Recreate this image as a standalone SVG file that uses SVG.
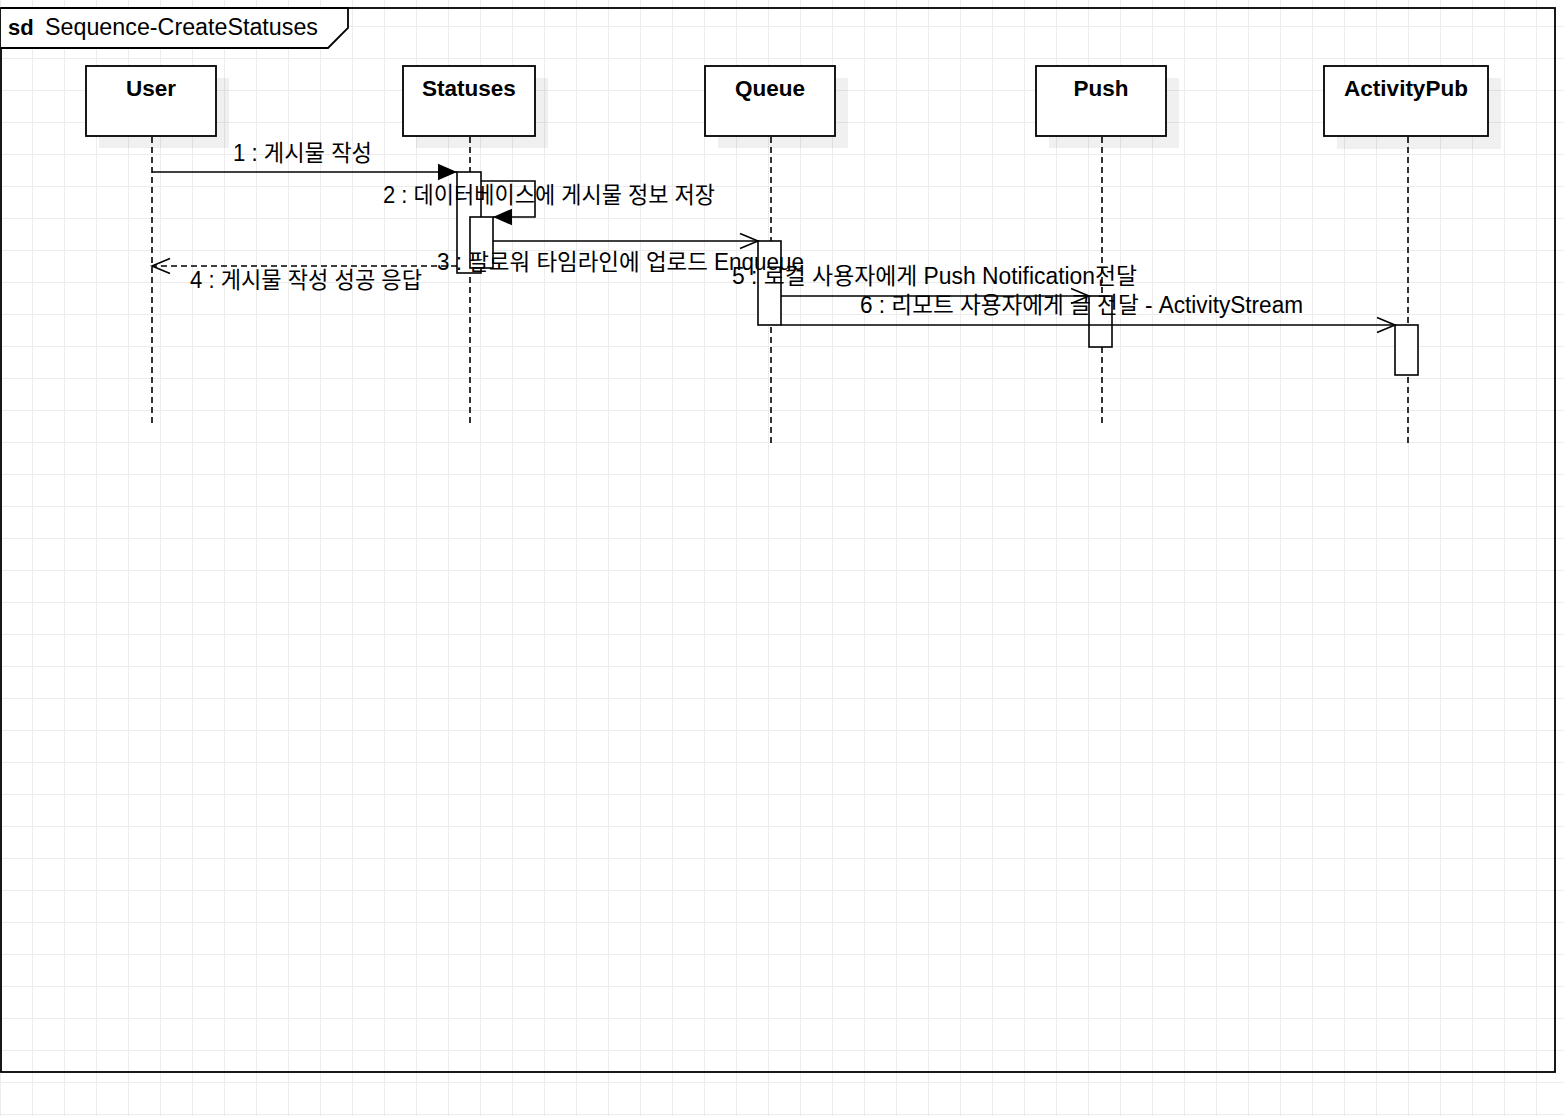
<svg xmlns="http://www.w3.org/2000/svg" width="1564" height="1116" viewBox="0 0 1564 1116">
<defs>
<style>
text{font-family:"Liberation Sans","Noto Sans CJK KR",sans-serif;fill:#000}
.hd{font-size:22.5px;font-weight:bold;text-anchor:middle}
.msg{font-size:23px}
.box{fill:#fff;stroke:#000;stroke-width:1.8}
.shadow{fill:#000;fill-opacity:0.06}
.life{stroke:#000;stroke-width:1.6;stroke-dasharray:6 4;fill:none}
.act{fill:#fff;stroke:#000;stroke-width:1.6}
.line{stroke:#000;stroke-width:1.6;fill:none}
.dash{stroke-dasharray:6 4}
</style>
<pattern id="grid" width="32" height="32" patternUnits="userSpaceOnUse" x="0" y="26">
<path d="M0 0.5 H32 M0.5 0 V32" stroke="#ececec" stroke-width="1" fill="none"/>
</pattern>
<marker id="filled" markerUnits="userSpaceOnUse" markerWidth="20" markerHeight="18" refX="19" refY="9" orient="auto" overflow="visible">
<path d="M0 0.7 L19 9 L0 17.3 Z" fill="#000"/>
</marker>
<marker id="open" markerUnits="userSpaceOnUse" markerWidth="20" markerHeight="18" refX="19" refY="9" orient="auto" overflow="visible">
<path d="M1 1.5 L19 9 L1 16.5" fill="none" stroke="#000" stroke-width="1.6"/>
</marker>
</defs>
<rect width="1564" height="1116" fill="#fff"/>
<rect width="1564" height="1116" fill="url(#grid)"/>

<g id="frame">
<rect x="1" y="8" width="1554" height="1064" fill="none" stroke="#000" stroke-width="1.8"/>
<path d="M1 8 H348 V28 L328 48 H1" fill="#fff" stroke="#000" stroke-width="1.8"/>
<text x="8" y="35" font-size="22px" font-weight="bold">sd</text>
<text x="45" y="35" font-size="23px" textLength="273" lengthAdjust="spacingAndGlyphs">Sequence-CreateStatuses</text>
</g>

<g id="lifeline-user">
<rect class="shadow" x="99" y="78" width="130" height="70"/>
<rect class="box" x="86" y="66" width="130" height="70"/>
<text class="hd" x="151" y="96">User</text>
<line class="life" x1="152" y1="137" x2="152" y2="424"/>
</g>

<g id="lifeline-statuses">
<rect class="shadow" x="416" y="78" width="132" height="70"/>
<rect class="box" x="403" y="66" width="132" height="70"/>
<text class="hd" x="469" y="96">Statuses</text>
<line class="life" x1="470" y1="137" x2="470" y2="424"/>
<rect class="act" x="457" y="172" width="24" height="101"/>
<rect class="act" x="470" y="217" width="23" height="51"/>
</g>

<g id="lifeline-queue">
<rect class="shadow" x="718" y="78" width="130" height="70"/>
<rect class="box" x="705" y="66" width="130" height="70"/>
<text class="hd" x="770" y="96">Queue</text>
<line class="life" x1="771" y1="137" x2="771" y2="443"/>
<rect class="act" x="758" y="241" width="23" height="84"/>
</g>

<g id="lifeline-push">
<rect class="shadow" x="1049" y="78" width="130" height="70"/>
<rect class="box" x="1036" y="66" width="130" height="70"/>
<text class="hd" x="1101" y="96">Push</text>
<line class="life" x1="1102" y1="137" x2="1102" y2="424"/>
<rect class="act" x="1089" y="296" width="23" height="51"/>
</g>

<g id="lifeline-activitypub">
<rect class="shadow" x="1337" y="78" width="164" height="71"/>
<rect class="box" x="1324" y="66" width="164" height="70"/>
<text class="hd" x="1406" y="96">ActivityPub</text>
<line class="life" x1="1408" y1="137" x2="1408" y2="443"/>
<rect class="act" x="1395" y="325" width="23" height="50"/>
</g>

<g id="connectors">
<line class="line" x1="152" y1="172" x2="457" y2="172" marker-end="url(#filled)"/>
<path class="line" d="M481 181 H535 V217 H493" marker-end="url(#filled)"/>
<line class="line" x1="493" y1="241" x2="758" y2="241" marker-end="url(#open)"/>
<line class="line dash" x1="457" y1="266" x2="152" y2="266" marker-end="url(#open)"/>
<line class="line" x1="781" y1="296" x2="1089" y2="296" marker-end="url(#open)"/>
<line class="line" x1="781" y1="325" x2="1395" y2="325" marker-end="url(#open)"/>
</g>

<g id="labels">
<text class="msg" x="233" y="161" textLength="139" lengthAdjust="spacingAndGlyphs">1 : 게시물 작성</text>
<text class="msg" x="383" y="203" textLength="332" lengthAdjust="spacingAndGlyphs">2 : 데이터베이스에 게시물 정보 저장</text>
<text class="msg" x="437" y="270" textLength="367" lengthAdjust="spacingAndGlyphs">3 : 팔로워 타임라인에 업로드 Enqueue</text>
<text class="msg" x="190" y="288" textLength="232" lengthAdjust="spacingAndGlyphs">4 : 게시물 작성 성공 응답</text>
<text class="msg" x="732" y="284" textLength="405" lengthAdjust="spacingAndGlyphs">5 : 로컬 사용자에게 Push Notification전달</text>
<text class="msg" x="860" y="313" textLength="443" lengthAdjust="spacingAndGlyphs">6 : 리모트 사용자에게 글 전달 - ActivityStream</text>
</g>
</svg>
